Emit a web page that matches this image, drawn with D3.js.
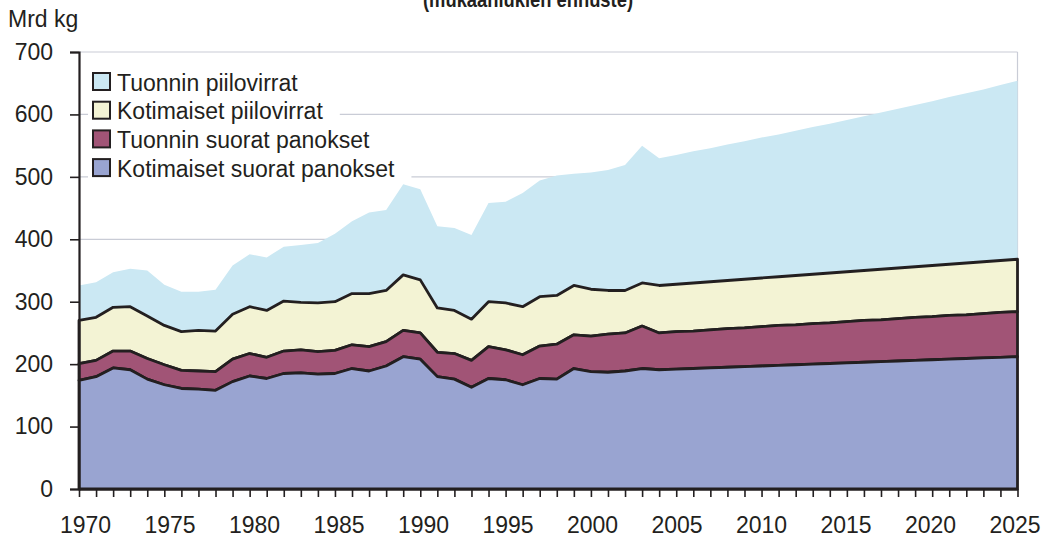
<!DOCTYPE html>
<html lang="fi">
<head>
<meta charset="utf-8">
<script src="https://d3js.org/d3.v7.min.js"></script>
<style>
  body { margin: 0; background: #fff; }
  svg { display: block; font-family: "Liberation Sans", Arial, sans-serif; }
</style>
</head>
<body>
<svg id="chart" width="1046" height="540"></svg>
<script>

// vuodet 1970-2025
var years = [1970,1971,1972,1973,1974,1975,1976,1977,1978,1979,
             1980,1981,1982,1983,1984,1985,1986,1987,1988,1989,
             1990,1991,1992,1993,1994,1995,1996,1997,1998,1999,
             2000,2001,2002,2003,2004,2005,2006,2007,2008,2009,
             2010,2011,2012,2013,2014,2015,2016,2017,2018,2019,
             2020,2021,2022,2023,2024,2025];

// Mrd kg, luettu kuvasta
var kotimaisetSuorat = [174,180,194,191,176,167,161,160,158,172,
                        181,177,185,186,184,185,193,189,197,212,
                        208,180,176,163,177,175,167,177,176,193,
                        188,187,189,193,191,192,193,194,195,196,
                        197,198,199,200,201,202,203,204,205,206,
                        207,208,209,210,211,212];
var tuonninSuorat = [27,26,27,30,33,32,29,29,30,36,
                     36,34,36,37,36,37,38,39,39,42,
                     42,39,41,43,51,48,48,52,56,54,
                     57,61,61,68,59,60,60,61,62,62,
                     63,64,64,65,65,66,67,67,68,69,
                     69,70,70,71,72,72];
var kotimaisetPiilo = [69,69,70,71,68,63,62,65,65,72,
                       75,75,80,76,78,78,82,85,82,89,
                       85,71,69,66,72,75,77,79,78,79,
                       75,70,68,69,76,76,77,77,77,78,
                       78,78,79,79,80,80,80,81,81,81,
                       82,82,83,83,83,84];
var tuonninPiilo = [56,56,56,61,73,65,64,62,66,78,
                    84,85,87,92,96,109,116,130,129,145,
                    145,131,132,135,158,162,182,186,192,179,
                    187,193,201,220,204,207,211,214,218,221,
                    225,228,232,236,239,243,247,251,255,259,
                    263,268,272,276,281,286];

var seriesNames = ["Kotimaiset suorat panokset", "Tuonnin suorat panokset",
                   "Kotimaiset piilovirrat", "Tuonnin piilovirrat"];
var seriesColors = ["#99a4d1", "#a15476", "#f3f3d4", "#cbe8f3"];

var yTicks = [0,100,200,300,400,500,600,700];
var xTickLabels = [1970,1975,1980,1985,1990,1995,2000,2005,2010,2015,2020,2025];

var ink = "#231f20";
var svg = d3.select("#chart");

var x = d3.scaleLinear().domain([1970, 2025]).range([79, 1017.5]);
var y = d3.scaleLinear().domain([0, 700]).range([489, 52]);
// year labels sit a little off the ticks in the original
var xLab = d3.scaleLinear().domain([1970, 2025]).range([85, 1014.5]);

var rows = years.map(function(yr, i) {
  return { year: yr, k0: kotimaisetSuorat[i], k1: tuonninSuorat[i],
           k2: kotimaisetPiilo[i], k3: tuonninPiilo[i] };
});
var stacked = d3.stack().keys(["k0","k1","k2","k3"])(rows);

// gridlines + plot frame
svg.append("g").selectAll("line")
  .data(yTicks.slice(1))
  .enter().append("line")
    .attr("x1", x(1970)).attr("x2", x(2025))
    .attr("y1", function(d){ return y(d); })
    .attr("y2", function(d){ return y(d); })
    .attr("stroke", "#c9ccd6").attr("stroke-width", 1.2);
svg.append("line")
  .attr("x1", x(2025)).attr("x2", x(2025))
  .attr("y1", y(700)).attr("y2", y(0))
  .attr("stroke", "#c9ccd6").attr("stroke-width", 1.2);

// legend (white boxes hide the grid behind the text)
var legendItems = [3,2,1,0];
var lg = svg.append("g");
var rowsG = lg.selectAll("g").data(legendItems).enter().append("g")
  .attr("transform", function(d, i){ return "translate(93," + (73 + i * 28.7) + ")"; });
rowsG.append("rect").attr("class", "bg")
  .attr("x", -5).attr("y", -5).attr("height", 30).attr("fill", "#fff");
rowsG.append("rect")
  .attr("width", 17).attr("height", 17)
  .attr("fill", function(d){ return seriesColors[d]; })
  .attr("stroke", ink).attr("stroke-width", 2);
rowsG.append("text")
  .attr("x", 24).attr("y", 17.5)
  .attr("font-size", "23px").attr("fill", ink)
  .text(function(d){ return seriesNames[d]; });
rowsG.each(function() {
  var g = d3.select(this);
  var w = g.select("text").node().getComputedTextLength();
  g.select("rect.bg").attr("width", 24 + w + 22);
});

// areas
var area = d3.area()
  .x(function(d){ return x(d.data.year); })
  .y0(function(d){ return y(d[0]); })
  .y1(function(d){ return y(d[1]); });

svg.append("g").selectAll("path")
  .data(stacked.slice().reverse())
  .enter().append("path")
    .attr("d", area)
    .attr("fill", function(d){ return seriesColors[d.index]; })
    .attr("stroke", function(d){ return d.index < 3 ? ink : "none"; })
    .attr("stroke-width", 2.8)
    .attr("stroke-linejoin", "round");

// y axis
var yAxis = svg.append("g").attr("transform", "translate(" + x(1970) + ",0)")
  .call(d3.axisLeft(y).tickValues(yTicks).tickSize(9).tickPadding(17).tickFormat(d3.format("d")));
yAxis.select(".domain").attr("stroke", ink).attr("stroke-width", 2.2);
yAxis.selectAll(".tick line").attr("stroke", ink).attr("stroke-width", 1.6);
yAxis.selectAll(".tick text").attr("font-size", "23px").attr("fill", ink)
  .attr("font-family", "Liberation Sans, Arial, sans-serif");

// x axis: a tick for every year, label every fifth
var xAxis = svg.append("g").attr("transform", "translate(0," + y(0) + ")")
  .call(d3.axisBottom(x).tickValues(years).tickSize(8).tickSizeOuter(0)
    .tickFormat(function(d){ return xTickLabels.indexOf(d) >= 0 ? d : ""; }));
xAxis.select(".domain").attr("stroke", ink).attr("stroke-width", 2.2);
xAxis.selectAll(".tick line").attr("stroke", ink).attr("stroke-width", 1.6);
xAxis.selectAll(".tick text").attr("font-size", "23px").attr("fill", ink)
  .attr("font-family", "Liberation Sans, Arial, sans-serif")
  .attr("x", function(d){ return xLab(d) - x(d); })
  .attr("y", 28).attr("dy", "0.71em");

// unit + title (title is cut by the top edge in the original too)
svg.append("text").attr("x", 8).attr("y", 27)
  .attr("font-size", "23px").attr("fill", ink).text("Mrd kg");
svg.append("text").attr("x", 528).attr("y", 7)
  .attr("text-anchor", "middle").attr("font-size", "22px").attr("font-weight", "bold")
  .attr("textLength", 210).attr("lengthAdjust", "spacingAndGlyphs")
  .attr("fill", ink).text("(mukaanlukien ennuste)");

</script>
</body>
</html>
